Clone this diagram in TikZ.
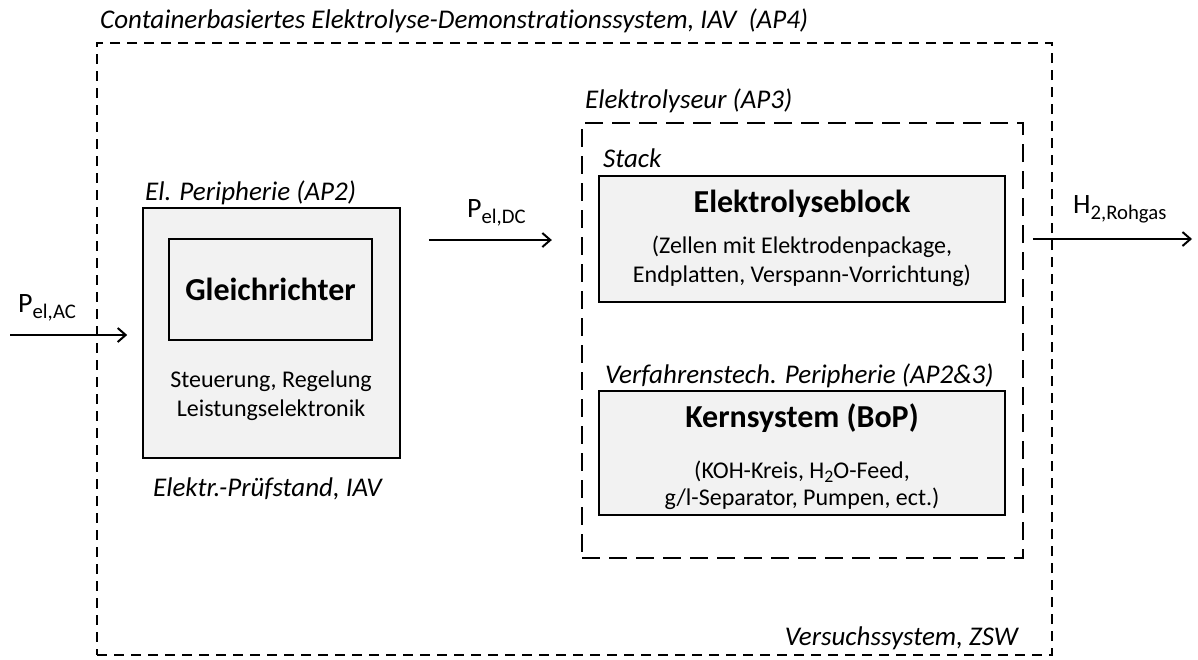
\documentclass[tikz,border=0pt]{standalone}
\usepackage{fontspec}
\usepackage{graphicx}
\setmainfont{Carlito}[Ligatures=NoCommon]
\usetikzlibrary{arrows.meta}

\definecolor{boxgray}{HTML}{F2F2F2}
\newcommand{\lowsub}[2][-5pt]{\raisebox{#1}{\scalebox{0.74}{#2}}}

\tikzset{
  solidbox/.style={draw, line width=1.6pt, fill=boxgray, inner sep=0pt},
  outerframe/.style={draw, line width=2.3pt, dash pattern=on 10pt off 7pt, inner sep=0pt},
  innerframe/.style={draw, line width=2.3pt, dash pattern=on 18pt off 9pt, inner sep=0pt},
  flow/.style={line width=2pt, -{Straight Barb[length=8pt,width=14pt]}},
  tag/.style={anchor=base west, font=\fontsize{27}{30}\selectfont\itshape, inner sep=0pt},
  head/.style={anchor=base, font=\fontsize{32}{36}\selectfont\bfseries, inner sep=0pt},
  body/.style={anchor=base, font=\fontsize{24}{28}\selectfont, inner sep=0pt},
  qty/.style={anchor=base west, font=\fontsize{28}{30}\selectfont, inner sep=0pt},
}

\begin{document}
\begin{tikzpicture}[x=1pt, y=-1pt]
\useasboundingbox (0,0) rectangle (1198,659);

% dashed frames
\node[outerframe, minimum width=955pt, minimum height=612pt] (sys) at (574.5,349) {};
\node[innerframe, minimum width=441pt, minimum height=435pt] (ely) at (802.5,340.5) {};

% grey boxes
\node[solidbox, minimum width=257pt, minimum height=250pt] (per) at (271.5,333) {};
\node[solidbox, minimum width=203pt, minimum height=101pt] (gr) at (270.5,289.5) {};
\node[solidbox, minimum width=406pt, minimum height=126pt] (stack) at (802,239) {};
\node[solidbox, minimum width=406pt, minimum height=124pt] (kern) at (802,453) {};

% box texts
\node[head] (grtxt) at (270.5,300) {Gleichrichter};
\node[body] (ctl1) at (271,387) {Steuerung, Regelung};
\node[body] (ctl2) at (271,416) {Leistungselektronik};
\node[head] (stacktxt) at (802,212) {Elektrolyseblock};
\node[body] (stack1) at (802,253) {(Zellen mit Elektrodenpackage,};
\node[body] (stack2) at (802,282) {Endplatten, Verspann-Vorrichtung)};
\node[head] (kerntxt) at (802,427) {Kernsystem (BoP)};
\node[body] (kern1) at (802,478) {(KOH-Kreis, H\lowsub[-4pt]{2}O-Feed,};
\node[body] (kern2) at (802,505) {g/l-Separator, Pumpen, ect.)};

% frame labels
\node[tag] (systag) at (100,28) {Containerbasiertes Elektrolyse-Demonstrationssystem, IAV\ \ (AP4)};
\node[tag] (pertag) at (145,200) {El. Peripherie (AP2)};
\node[tag] (prftag) at (153,496) {Elektr.-Prüfstand, IAV};
\node[tag] (elytag) at (585,108) {Elektrolyseur (AP3)};
\node[tag] (stacktag) at (603,167) {Stack};
\node[tag] (kerntag) at (605,383) {Verfahrenstech. Peripherie (AP2\&3)};
\node[tag, anchor=base east] (zswtag) at (1018,645) {Versuchssystem, ZSW};

% flows
\coordinate (acin) at (10,335);
\coordinate (dcy) at (0,240);
\coordinate (h2out) at (1192,239);
\draw[flow, shorten >=15pt] (acin) -- (acin -| per.west);
\draw[flow, shorten <=28pt, shorten >=29pt] (per.east |- dcy) -- (ely.west |- dcy);
\draw[flow, shorten <=27pt] (stack.east) -- (h2out);

% flow labels
\node[qty] (acq) at (18,312) {P\lowsub[-6pt]{el,AC}};
\node[qty] (dcq) at (467,217) {P\lowsub[-6pt]{el,DC}};
\node[qty] (h2q) at (1073,213) {H\lowsub[-6pt]{2,Rohgas}};

\end{tikzpicture}
\end{document}
